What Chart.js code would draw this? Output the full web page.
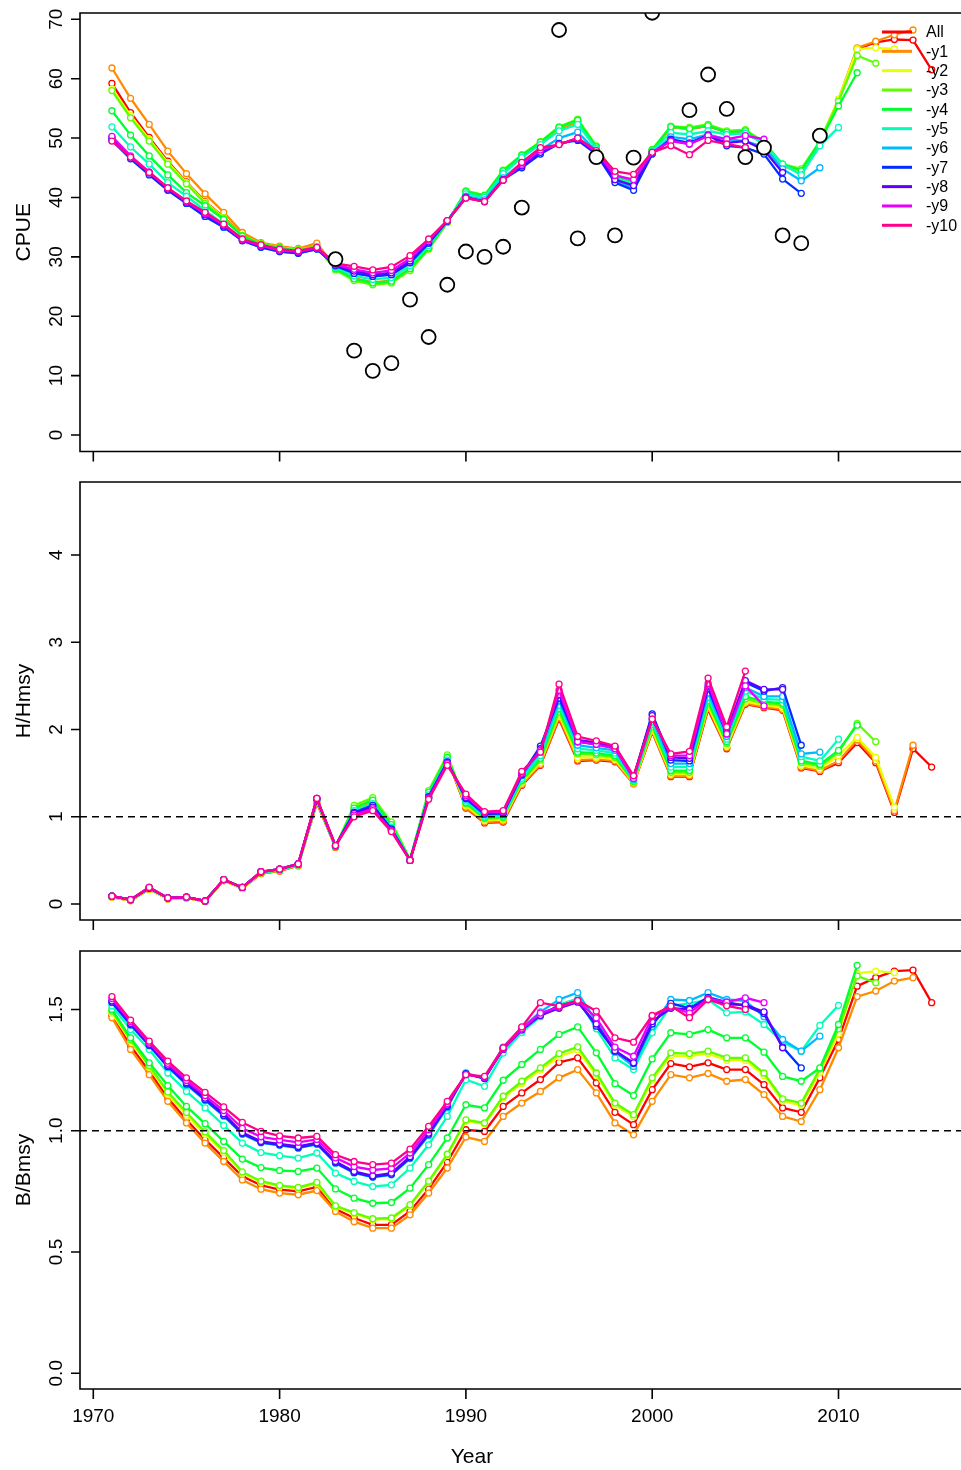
<!DOCTYPE html>
<html>
<head>
<meta charset="utf-8">
<script src="https://cdn.jsdelivr.net/npm/chart.js@4.4.0/dist/chart.umd.min.js"></script>
<style>
  html, body { margin: 0; padding: 0; background: #fff; }
  #wrap { position: relative; width: 961px; height: 1470px; overflow: hidden; }
  .panel { position: absolute; left: 0; width: 961px; }
  canvas { display: block; }
</style>
</head>
<body>
<div id="wrap">
  <div class="panel" style="top:0;height:470px"><canvas id="cpueChart" width="961" height="470"></canvas></div>
  <div class="panel" style="top:470px;height:465px"><canvas id="hChart" width="961" height="465"></canvas></div>
  <div class="panel" style="top:935px;height:535px"><canvas id="bChart" width="961" height="535"></canvas></div>
</div>
<script>
const years = [1971,1972,1973,1974,1975,1976,1977,1978,1979,1980,
               1981,1982,1983,1984,1985,1986,1987,1988,1989,1990,
               1991,1992,1993,1994,1995,1996,1997,1998,1999,2000,
               2001,2002,2003,2004,2005,2006,2007,2008,2009,2010,
               2011,2012,2013,2014,2015];
const yearTicks = [1970, 1980, 1990, 2000, 2010];
const cpueTicks = [0, 10, 20, 30, 40, 50, 60, 70];
const hTicks = [0, 1, 2, 3, 4];
const bTicks = [0, 0.5, 1, 1.5];
const bTickLabels = ['0.0', '0.5', '1.0', '1.5'];

const seriesNames = ['All','-y1','-y2','-y3','-y4','-y5','-y6','-y7','-y8','-y9','-y10'];
const seriesColors = ['#FF0000','#FF8B00','#E8FF00','#5DFF00','#00FF2E','#00FFB9',
                      '#00B9FF','#002EFF','#5D00FF','#E800FF','#FF008B'];

// observed CPUE index (open black circles)
const cpueObs = [null,null,null,null,null,null,null,null,null,null,
                 null,null,29.6,14.2,10.8,12.1,22.8,16.5,25.3,30.9,
                 30.0,31.7,38.3,null,68.2,33.1,46.8,33.6,46.7,71.1,
                 null,54.7,60.7,54.9,46.8,48.4,33.6,32.3,50.4];

// predicted CPUE, full run and peels
const cpueAll = [59.2,54.3,50.1,46.1,42.6,39.3,36.7,33.7,32.2,31.6, 31.2,31.8,28.0,26.2,25.5,25.8,27.8,31.4,35.8,40.8,
                 40.2,44.3,46.9,49.1,51.6,52.8,48.3,43.6,42.6,47.9, 51.8,51.6,52.0,51.0,51.2,49.0,45.5,44.2,49.3,56.3,
                 65.0,66.1,66.6,66.5,61.5];
const cpueY1 = [61.8,56.7,52.3,47.8,44.0,40.6,37.5,34.1,32.4,31.8, 31.4,32.3,28.2,26.4,25.7,26.0,28.0,31.5,35.9,40.8,
                40.2,44.3,46.9,49.1,51.5,52.7,48.3,43.6,42.6,47.9, 51.8,51.6,52.0,51.0,51.2,49.0,45.4,44.0,49.4,56.5,
                65.2,66.3,67.4,68.2];
const cpueY2 = [58.3,53.8,49.8,45.9,42.5,39.2,36.6,33.6,32.2,31.6, 31.2,31.7,27.9,26.1,25.4,25.7,27.7,31.3,35.8,41.0,
                40.3,44.5,47.1,49.3,51.8,53.0,48.5,43.7,42.7,48.0, 51.9,51.7,52.2,51.1,51.3,49.2,45.5,44.3,49.5,56.5,
                65.0,65.2,65.0];
const cpueY3 = [58.0,53.4,49.5,45.6,42.3,39.0,36.5,33.6,32.2,31.6, 31.2,31.7,27.8,26.0,25.3,25.6,27.7,31.3,35.8,41.1,
                40.4,44.6,47.2,49.4,51.9,53.2,48.7,43.8,42.8,48.1, 52.0,51.8,52.3,51.2,51.4,49.3,45.6,44.8,49.5,56.2,
                63.9,62.6];
const cpueY4 = [54.6,50.5,47.0,43.8,40.8,38.6,36.3,33.5,32.1,31.5, 31.0,31.6,28.0,26.3,25.6,25.9,28.0,31.5,35.9,41.0,
                40.3,44.5,47.1,49.3,51.8,53.0,48.5,43.6,42.6,48.0, 51.9,51.6,52.1,51.0,51.2,49.1,45.6,44.5,49.4,55.4,
                61.0];
const cpueY5 = [51.9,48.5,45.6,42.5,40.2,37.8,35.5,33.0,31.9,31.3, 30.9,31.5,28.2,26.8,26.2,26.5,28.5,31.9,36.0,40.6,
                40.0,44.0,46.7,48.9,51.2,52.3,48.2,43.3,42.3,47.8, 50.9,50.6,51.2,50.6,50.8,49.0,45.6,43.8,48.7,51.8];
const cpueY6 = [50.0,46.8,44.0,41.3,39.0,36.8,35.0,32.8,31.6,30.9, 30.6,31.3,28.5,27.3,26.7,27.0,29.0,32.3,36.0,40.2,
                39.6,43.3,45.8,48.0,50.0,51.0,47.8,42.8,41.6,47.4, 50.2,49.8,50.6,49.8,49.5,48.5,44.8,42.8,45.0];
const cpueY7 = [49.6,46.5,43.8,41.2,39.0,36.8,35.0,32.7,31.6,30.9, 30.6,31.3,28.5,27.2,26.7,27.0,29.0,32.3,36.0,40.0,
                39.3,43.0,45.0,47.3,49.1,49.6,47.3,42.5,41.2,47.3, 49.8,49.2,50.5,48.7,48.4,47.3,43.1,40.7];
const cpueY8 = [50.1,46.8,44.1,41.4,39.2,37.1,35.2,32.8,31.8,31.0, 30.7,31.4,28.6,27.6,27.0,27.3,29.3,32.5,36.1,40.0,
                39.3,43.0,45.3,47.6,49.0,49.8,47.5,43.0,42.0,47.5, 49.6,49.0,50.4,49.2,49.5,48.0,44.2];
const cpueY9 = [50.3,47.0,44.3,41.6,39.3,37.3,35.4,32.9,31.9,31.1, 30.9,31.5,28.7,27.9,27.3,27.7,29.7,32.8,36.1,39.9,
                39.3,42.9,45.6,48.0,48.9,50.0,47.7,43.7,43.0,47.6, 49.5,49.0,50.4,49.8,50.4,49.8];
const cpueY10 = [49.5,46.8,44.2,41.6,39.4,37.5,35.5,33.0,32.0,31.3, 31.0,31.6,28.9,28.4,27.8,28.3,30.2,33.0,36.1,39.9,
                 39.3,42.9,45.9,48.4,48.9,50.0,47.9,44.4,43.9,47.6, 48.7,47.2,49.6,49.0,48.4];

// harvest rate relative to Hmsy
const hAll = [0.08,0.04,0.17,0.06,0.07,0.03,0.27,0.18,0.35,0.38, 0.44,1.16,0.65,1.08,1.17,0.90,0.50,1.26,1.67,1.10,
              0.93,0.94,1.36,1.59,2.12,1.64,1.65,1.63,1.38,1.97, 1.46,1.46,2.23,1.78,2.29,2.25,2.22,1.56,1.52,1.62,
              1.85,1.62,1.05,1.78,1.57];
const hY1 = [0.08,0.04,0.17,0.06,0.07,0.03,0.27,0.18,0.35,0.38, 0.44,1.17,0.65,1.08,1.17,0.90,0.50,1.26,1.67,1.11,
             0.94,0.95,1.37,1.60,2.14,1.65,1.66,1.64,1.38,1.98, 1.47,1.47,2.25,1.79,2.30,2.26,2.23,1.57,1.53,1.64,
             1.88,1.64,1.07,1.82];
const hY2 = [0.08,0.04,0.17,0.06,0.07,0.03,0.27,0.18,0.36,0.39, 0.45,1.18,0.66,1.10,1.19,0.91,0.50,1.27,1.68,1.13,
             0.96,0.97,1.39,1.62,2.17,1.68,1.68,1.66,1.39,2.00, 1.49,1.49,2.27,1.81,2.32,2.28,2.25,1.59,1.55,1.70,
             1.91,1.68,1.11];
const hY3 = [0.09,0.05,0.18,0.07,0.08,0.035,0.28,0.19,0.36,0.39, 0.45,1.20,0.66,1.13,1.22,0.94,0.51,1.30,1.71,1.15,
             0.98,0.99,1.41,1.65,2.20,1.72,1.71,1.68,1.40,2.03, 1.51,1.51,2.30,1.84,2.35,2.30,2.28,1.62,1.58,1.74,
             2.07,1.86];
const hY4 = [0.09,0.05,0.18,0.07,0.08,0.035,0.28,0.19,0.36,0.39, 0.45,1.20,0.66,1.10,1.19,0.91,0.51,1.28,1.68,1.16,
             0.99,1.00,1.42,1.67,2.24,1.74,1.73,1.70,1.41,2.06, 1.53,1.53,2.33,1.86,2.38,2.32,2.30,1.64,1.60,1.76,
             2.05];
const hY5 = [0.09,0.05,0.18,0.07,0.08,0.035,0.28,0.19,0.36,0.39, 0.45,1.19,0.66,1.07,1.15,0.88,0.50,1.25,1.65,1.18,
             1.00,1.01,1.44,1.70,2.28,1.78,1.76,1.73,1.42,2.09, 1.57,1.57,2.37,1.89,2.44,2.35,2.34,1.69,1.64,1.89];
const hY6 = [0.09,0.05,0.18,0.07,0.08,0.035,0.28,0.19,0.37,0.40, 0.46,1.20,0.66,1.05,1.13,0.86,0.50,1.23,1.63,1.20,
             1.02,1.03,1.47,1.74,2.33,1.82,1.79,1.76,1.43,2.12, 1.61,1.61,2.42,1.92,2.48,2.38,2.38,1.72,1.74];
const hY7 = [0.09,0.05,0.18,0.07,0.08,0.035,0.28,0.19,0.37,0.40, 0.46,1.20,0.67,1.05,1.13,0.86,0.50,1.23,1.63,1.21,
             1.03,1.04,1.48,1.81,2.36,1.86,1.83,1.79,1.45,2.18, 1.65,1.64,2.47,1.95,2.54,2.44,2.48,1.82];
const hY8 = [0.09,0.05,0.19,0.07,0.08,0.035,0.28,0.19,0.37,0.40, 0.46,1.21,0.67,1.04,1.11,0.85,0.50,1.22,1.62,1.22,
             1.04,1.05,1.49,1.78,2.40,1.88,1.85,1.80,1.46,2.16, 1.68,1.67,2.50,1.98,2.56,2.46,2.46];
const hY9 = [0.09,0.05,0.19,0.07,0.08,0.035,0.28,0.19,0.37,0.40, 0.46,1.21,0.67,1.02,1.09,0.84,0.50,1.21,1.61,1.24,
             1.05,1.06,1.50,1.76,2.45,1.86,1.83,1.78,1.44,2.12, 1.70,1.70,2.53,1.95,2.50,2.27];
const hY10 = [0.09,0.05,0.19,0.07,0.08,0.035,0.28,0.19,0.37,0.40, 0.46,1.21,0.67,1.00,1.07,0.83,0.50,1.20,1.59,1.26,
              1.06,1.07,1.52,1.74,2.52,1.92,1.87,1.81,1.47,2.12, 1.72,1.75,2.59,2.03,2.67];

// biomass relative to Bmsy
const bAll = [1.475,1.350,1.245,1.135,1.045,0.963,0.888,0.812,0.775,0.757, 0.750,0.768,0.677,0.640,0.612,0.612,0.668,0.760,0.870,1.004,
              0.997,1.100,1.156,1.211,1.282,1.300,1.197,1.076,1.025,1.169, 1.277,1.263,1.280,1.252,1.252,1.190,1.094,1.076,1.218,1.376,
              1.596,1.631,1.658,1.662,1.528];
const bY1 = [1.466,1.335,1.231,1.121,1.032,0.949,0.873,0.797,0.759,0.743, 0.736,0.753,0.667,0.625,0.598,0.598,0.653,0.743,0.846,0.974,
             0.956,1.059,1.114,1.162,1.218,1.252,1.156,1.032,0.983,1.121, 1.231,1.218,1.236,1.204,1.211,1.149,1.059,1.038,1.169,1.342,
             1.553,1.576,1.617,1.631];
const bY2 = [1.485,1.370,1.262,1.150,1.065,0.985,0.910,0.825,0.788,0.770, 0.762,0.782,0.685,0.658,0.633,0.636,0.690,0.788,0.898,1.040,
             1.028,1.135,1.195,1.250,1.305,1.333,1.228,1.105,1.058,1.208, 1.310,1.308,1.318,1.290,1.290,1.228,1.122,1.105,1.240,1.400,
             1.649,1.658,1.652];
const bY3 = [1.493,1.375,1.268,1.160,1.075,0.995,0.918,0.830,0.792,0.775, 0.766,0.787,0.690,0.662,0.637,0.640,0.695,0.792,0.903,1.045,
             1.032,1.142,1.204,1.259,1.318,1.346,1.238,1.114,1.066,1.218, 1.321,1.318,1.328,1.300,1.300,1.238,1.131,1.114,1.255,1.420,
             1.638,1.610];
const bY4 = [1.500,1.383,1.280,1.186,1.100,1.029,0.956,0.883,0.848,0.836, 0.832,0.846,0.760,0.722,0.701,0.704,0.763,0.860,0.970,1.107,
             1.094,1.208,1.273,1.335,1.397,1.428,1.321,1.194,1.145,1.296, 1.404,1.397,1.417,1.383,1.383,1.324,1.224,1.204,1.259,1.438,
             1.682];
const bY5 = [1.515,1.417,1.335,1.238,1.162,1.094,1.022,0.949,0.910,0.897, 0.887,0.908,0.825,0.791,0.770,0.777,0.846,0.942,1.059,1.210,
             1.183,1.320,1.405,1.470,1.520,1.545,1.420,1.300,1.252,1.404, 1.515,1.525,1.540,1.486,1.490,1.438,1.365,1.328,1.434,1.517];
const bY6 = [1.528,1.435,1.350,1.262,1.190,1.125,1.060,0.985,0.950,0.940, 0.928,0.944,0.866,0.826,0.808,0.818,0.885,0.980,1.095,1.238,
             1.215,1.345,1.425,1.490,1.541,1.569,1.450,1.325,1.265,1.430, 1.541,1.537,1.569,1.541,1.535,1.470,1.376,1.328,1.390];
const bY7 = [1.530,1.438,1.352,1.265,1.193,1.128,1.063,0.988,0.952,0.942, 0.930,0.946,0.868,0.828,0.810,0.820,0.888,0.985,1.100,1.235,
             1.215,1.338,1.418,1.479,1.515,1.535,1.431,1.328,1.277,1.440, 1.525,1.505,1.550,1.530,1.515,1.483,1.345,1.259];
const bY8 = [1.535,1.442,1.356,1.270,1.198,1.134,1.070,0.992,0.956,0.946, 0.935,0.950,0.873,0.832,0.814,0.825,0.893,0.990,1.105,1.232,
             1.218,1.335,1.415,1.475,1.505,1.530,1.440,1.330,1.280,1.450, 1.505,1.500,1.545,1.520,1.520,1.490,1.342];
const bY9 = [1.545,1.450,1.362,1.278,1.207,1.145,1.083,1.010,0.975,0.962, 0.952,0.964,0.888,0.852,0.838,0.845,0.908,1.004,1.112,1.231,
             1.220,1.338,1.420,1.485,1.510,1.535,1.465,1.345,1.307,1.470, 1.510,1.485,1.545,1.530,1.548,1.528];
const bY10 = [1.553,1.456,1.369,1.287,1.218,1.158,1.098,1.034,0.997,0.979, 0.970,0.977,0.901,0.873,0.860,0.866,0.924,1.018,1.121,1.231,
              1.224,1.342,1.428,1.528,1.514,1.537,1.493,1.383,1.365,1.475, 1.514,1.466,1.541,1.515,1.500];

const FONT = '"Liberation Sans", Arial, sans-serif';

function toPoints(vals) {
    return vals.map((v, i) => ({ x: years[i], y: v }));
}

function lineSets(list) {
    return list.map((vals, k) => ({
        label: seriesNames[k],
        data: toPoints(vals),
        borderColor: seriesColors[k],
        backgroundColor: '#ffffff',
        borderWidth: 2.3,
        pointRadius: 3,
        pointBorderWidth: 1.3,
        pointBorderColor: seriesColors[k],
        pointBackgroundColor: '#ffffff',
        tension: 0,
        order: 20 - k   // All at the bottom, -y10 on top
    }));
}

// R-style frame: box, ticks, rotated tick labels, axis titles, ref line, legend
const rFrame = {
    id: 'rFrame',
    afterDatasetsDraw(chart, args, o) {
        const { ctx, chartArea: a } = chart;
        const xs = chart.scales.x, ys = chart.scales.y;
        ctx.save();
        ctx.strokeStyle = '#000';
        ctx.fillStyle = '#000';

        if (o.refLine != null) {
            const py = ys.getPixelForValue(o.refLine);
            ctx.lineWidth = 1.5;
            ctx.setLineDash([7, 5]);
            ctx.beginPath();
            ctx.moveTo(a.left, py);
            ctx.lineTo(a.right, py);
            ctx.stroke();
            ctx.setLineDash([]);
        }

        ctx.lineWidth = 1.6;
        ctx.beginPath();
        ctx.moveTo(a.right + 5, a.top);
        ctx.lineTo(a.left, a.top);
        ctx.lineTo(a.left, a.bottom);
        ctx.lineTo(a.right + 5, a.bottom);
        ctx.stroke();

        ctx.beginPath();
        yearTicks.forEach(t => {
            const px = xs.getPixelForValue(t);
            ctx.moveTo(px, a.bottom);
            ctx.lineTo(px, a.bottom + 10);
        });
        o.yTicks.forEach(t => {
            const py = ys.getPixelForValue(t);
            ctx.moveTo(a.left, py);
            ctx.lineTo(a.left - 9, py);
        });
        ctx.stroke();

        ctx.font = '19px ' + FONT;
        ctx.textAlign = 'center';
        ctx.textBaseline = 'alphabetic';
        o.yTicks.forEach((t, i) => {
            ctx.save();
            ctx.translate(62, ys.getPixelForValue(t));
            ctx.rotate(-Math.PI / 2);
            ctx.fillText(o.yLabels[i], 0, 0);
            ctx.restore();
        });

        ctx.font = '21px ' + FONT;
        ctx.save();
        ctx.translate(30, (a.top + a.bottom) / 2);
        ctx.rotate(-Math.PI / 2);
        ctx.fillText(o.title, 0, 0);
        ctx.restore();

        if (o.xLabels) {
            ctx.font = '19px ' + FONT;
            yearTicks.forEach(t => ctx.fillText(String(t), xs.getPixelForValue(t), a.bottom + 33));
            ctx.font = '21px ' + FONT;
            ctx.fillText('Year', 472, a.bottom + 74);
        }

        if (o.legend) {
            ctx.font = '16px ' + FONT;
            ctx.textAlign = 'left';
            ctx.textBaseline = 'middle';
            ctx.lineWidth = 3;
            seriesNames.forEach((name, i) => {
                const ly = 32 + i * 19.33;
                ctx.strokeStyle = seriesColors[i];
                ctx.beginPath();
                ctx.moveTo(882, ly);
                ctx.lineTo(912, ly);
                ctx.stroke();
                ctx.fillText(name, 926, ly + 1);
            });
        }
        ctx.restore();
    }
};

function makeChart(id, datasets, yMin, yMax, pad, frameOpts) {
    return new Chart(document.getElementById(id), {
        type: 'line',
        data: { datasets: datasets },
        options: {
            responsive: false,
            animation: false,
            devicePixelRatio: 1,
            layout: { padding: pad, autoPadding: false },
            scales: {
                x: { type: 'linear', display: false, min: 1969.286, max: 2016.575 },
                y: { type: 'linear', display: false, min: yMin, max: yMax }
            },
            plugins: {
                legend: { display: false },
                tooltip: { enabled: false },
                rFrame: frameOpts
            }
        },
        plugins: [rFrame]
    });
}

// 1. CPUE panel
const cpueSets = lineSets([cpueAll, cpueY1, cpueY2, cpueY3, cpueY4, cpueY5, cpueY6, cpueY7, cpueY8, cpueY9, cpueY10]);
cpueSets.push({
    label: 'Observed',
    data: toPoints(cpueObs),
    showLine: false,
    pointRadius: 7,
    pointBorderWidth: 1.8,
    pointBorderColor: '#000',
    pointBackgroundColor: '#fff',
    order: 0
});
makeChart('cpueChart', cpueSets, -2.78, 71.06,
    { left: 80, top: 13, right: 0, bottom: 18.5 },
    { yTicks: cpueTicks, yLabels: cpueTicks.map(String), title: 'CPUE', legend: true });

// 2. H/Hmsy panel
makeChart('hChart', lineSets([hAll, hY1, hY2, hY3, hY4, hY5, hY6, hY7, hY8, hY9, hY10]), -0.183, 4.837,
    { left: 80, top: 12, right: 0, bottom: 15 },
    { yTicks: hTicks, yLabels: hTicks.map(String), title: 'H/Hmsy', refLine: 1 });

// 3. B/Bmsy panel
makeChart('bChart', lineSets([bAll, bY1, bY2, bY3, bY4, bY5, bY6, bY7, bY8, bY9, bY10]), -0.065, 1.741,
    { left: 80, top: 16, right: 0, bottom: 81 },
    { yTicks: bTicks, yLabels: bTickLabels, title: 'B/Bmsy', refLine: 1, xLabels: true });
</script>
</body>
</html>
